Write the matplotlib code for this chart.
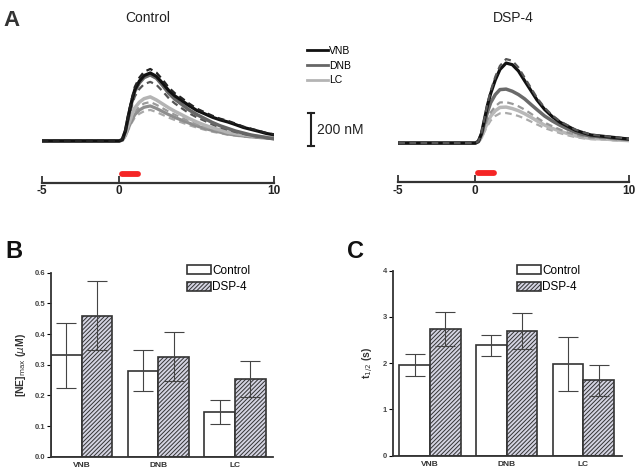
import matplotlib
matplotlib.use("Agg")
import matplotlib.pyplot as plt
from matplotlib.patches import Patch
from matplotlib.lines import Line2D
import numpy as np

plt.rcParams['font.family'] = ['Liberation Sans', 'DejaVu Sans']
plt.rcParams['axes.unicode_minus'] = False
plt.rcParams['hatch.linewidth'] = 0.7
plt.rcParams['hatch.color'] = '#8a8aa0'

# ---- Panel A: voltammetry traces (nM) ----
t = [-5, -2.5, 0, 0.2, 0.4, 0.6, 0.8, 1.0, 1.3, 1.6, 2.0, 2.4, 2.8, 3.2, 3.6, 4.0,
     4.5, 5.0, 5.5, 6.0, 6.5, 7.0, 7.5, 8.0, 8.5, 9.0, 9.5, 10.0]

ctrl_vnb = [0, 0, 0, 8, 62, 157, 239, 309, 363, 396, 412, 391, 350, 305, 272, 247,
            214, 185, 165, 144, 128, 115, 99, 82, 70, 58, 45, 37]
ctrl_vnb_dash = [0, 0, 0, 9, 65, 166, 253, 327, 384, 419, 436, 414, 371, 323, 288, 262,
                 227, 196, 174, 153, 135, 122, 105, 87, 74, 61, 48, 39]
ctrl_dnb = [0, 0, 0, 8, 60, 152, 232, 300, 352, 384, 400, 380, 336, 288, 252, 224,
            188, 160, 136, 112, 92, 76, 60, 48, 36, 28, 20, 12]
ctrl_dnb_dash = [0, 0, 0, 7, 54, 136, 208, 269, 315, 344, 358, 340, 301, 258, 226, 200,
                 168, 143, 122, 100, 82, 68, 54, 43, 32, 25, 18, 11]
ctrl_lc = [0, 0, 0, 5, 40, 101, 155, 200, 235, 256, 267, 248, 224, 200, 179, 160,
           136, 115, 96, 80, 67, 53, 45, 37, 32, 27, 21, 19]
ctrl_lc_dash = [0, 0, 0, 5, 35, 90, 137, 177, 208, 227, 236, 219, 198, 177, 158, 142,
                120, 101, 85, 71, 59, 47, 40, 33, 28, 24, 19, 17]
ctrl_mid = [0, 0, 0, 4, 32, 81, 123, 159, 187, 204, 212, 197, 178, 159, 142, 127,
            108, 91, 76, 64, 53, 42, 36, 30, 25, 21, 17, 15]
ctrl_lc_dash2 = [0, 0, 0, 4, 28, 71, 109, 141, 165, 180, 188, 175, 158, 141, 126, 113,
                 96, 81, 68, 56, 47, 38, 32, 26, 23, 19, 15, 13]

dsp_vnb = [0, 0, 0, 10, 58, 146, 233, 301, 383, 446, 485, 475, 437, 378, 320, 262,
           204, 160, 126, 102, 78, 63, 49, 44, 39, 34, 29, 24]
dsp_vnb_dash = [0, 0, 0, 10, 61, 153, 244, 316, 402, 468, 509, 499, 458, 397, 336, 275,
                214, 168, 132, 107, 81, 66, 51, 46, 41, 36, 31, 25]
dsp_dnb = [0, 0, 0, 10, 52, 124, 190, 245, 294, 324, 327, 314, 294, 268, 235, 203,
           164, 134, 108, 85, 65, 52, 43, 39, 36, 29, 26, 23]
dsp_lc = [0, 0, 0, 7, 35, 83, 126, 163, 196, 216, 218, 209, 196, 178, 157, 135,
          109, 89, 72, 57, 44, 35, 28, 26, 24, 20, 17, 15]
dsp_lc_dash_hi = [0, 0, 0, 7, 40, 94, 144, 186, 223, 246, 248, 238, 223, 203, 179, 154,
                  124, 102, 82, 64, 50, 40, 32, 30, 27, 22, 20, 17]
dsp_lc_dash_lo = [0, 0, 0, 5, 29, 69, 106, 137, 164, 180, 182, 175, 164, 149, 131, 113,
                  91, 75, 60, 47, 36, 29, 24, 22, 20, 16, 15, 13]

stim_on, stim_off = 0.15, 1.2

# ---- Panels B and C ----
regions = ['VNB', 'DNB', 'LC']
nemax_ctrl = [0.33, 0.28, 0.147]
nemax_ctrl_err = [0.105, 0.067, 0.039]
nemax_dsp = [0.46, 0.326, 0.253]
nemax_dsp_err = [0.112, 0.08, 0.058]

thalf_ctrl = [1.96, 2.39, 1.98]
thalf_ctrl_err = [0.245, 0.225, 0.58]
thalf_dsp = [2.74, 2.70, 1.63]
thalf_dsp_err = [0.375, 0.39, 0.33]

W, H = 637, 473
fig = plt.figure(figsize=(W / 100, H / 100), dpi=100)


def fr(x0, y0, x1, y1):
    # pixel box -> figure fraction rect
    return [x0 / W, 1 - y1 / H, (x1 - x0) / W, (y1 - y0) / H]


def trace_axes(rect, ylim):
    ax = fig.add_axes(rect)
    ax.set_xlim(-5, 10)
    ax.set_ylim(*ylim)
    for s in ['top', 'right', 'left']:
        ax.spines[s].set_visible(False)
    ax.spines['bottom'].set_linewidth(1.6)
    ax.spines['bottom'].set_color('#333333')
    ax.set_yticks([])
    ax.set_xticks([-5, 0, 10])
    ax.tick_params(axis='x', direction='in', length=5, width=1.3, color='#333333',
                   labelsize=8.5, pad=2, labelcolor='#222222')
    for lb in ax.get_xticklabels():
        lb.set_fontweight('bold')
    return ax


dash = (0, (3, 2))

# left (control)
axL = trace_axes(fr(41.7, 50, 274.3, 182.7), (-253, 551))
axL.plot(t, ctrl_lc_dash2, color='#a8a8a8', lw=1.6, ls=dash)
axL.plot(t, ctrl_mid, color='#8e8e8e', lw=2.3)
axL.plot(t, ctrl_lc_dash, color='#9a9a9a', lw=1.6, ls=dash)
axL.plot(t, ctrl_lc, color='#b4b4b4', lw=2.5)
axL.plot(t, ctrl_dnb_dash, color='#555555', lw=1.6, ls=dash)
axL.plot(t, ctrl_dnb, color='#666666', lw=2.5)
axL.plot(t, ctrl_vnb, color='#111111', lw=2.3)
axL.plot(t, ctrl_vnb_dash, color='#222222', lw=1.6, ls=dash)
axL.plot([stim_on, stim_off], [-198, -198], color='#f52525', lw=4.2,
         solid_capstyle='round', clip_on=False)

# scale bar
axL.plot([12.35, 12.35], [-30, 170], color='#222222', lw=1.5, clip_on=False)
axL.plot([12.15, 12.55], [170, 170], color='#222222', lw=1.5, clip_on=False)
axL.plot([12.15, 12.55], [-30, -30], color='#222222', lw=1.5, clip_on=False)
axL.text(12.75, 68, '200 nM', fontsize=10, va='center', ha='left', color='#222222')

# right (DSP-4)
axR = trace_axes(fr(398.3, 50, 629.3, 182), (-236, 564))
axR.plot(t, dsp_lc_dash_lo, color='#ababab', lw=1.6, ls=dash)
axR.plot(t, dsp_lc, color='#b8b8b8', lw=2.5)
axR.plot(t, dsp_lc_dash_hi, color='#999999', lw=1.6, ls=dash)
axR.plot(t, dsp_dnb, color='#6a6a6a', lw=2.5)
axR.plot(t, dsp_vnb, color='#111111', lw=2.3)
axR.plot(t, dsp_vnb_dash, color='#555555', lw=1.6, ls=dash)
axR.plot([stim_on, stim_off], [-182, -182], color='#f52525', lw=4.2,
         solid_capstyle='round', clip_on=False)

fig.text(148 / W, 1 - 18 / H, 'Control', fontsize=10, ha='center', va='center', color='#222222')
fig.text(513 / W, 1 - 18 / H, 'DSP-4', fontsize=10, ha='center', va='center', color='#222222')

leg_handles = [Line2D([], [], color='#111111', lw=2),
               Line2D([], [], color='#666666', lw=2),
               Line2D([], [], color='#b4b4b4', lw=2)]
fig.legend(leg_handles, regions, loc='upper left', bbox_to_anchor=(307 / W, 1 - 46 / H),
           frameon=False, fontsize=7.5, handlelength=2.0, handletextpad=0.1,
           labelspacing=0.45, borderpad=0, borderaxespad=0)

fig.text(12 / W, 1 - 20 / H, 'A', fontsize=16, fontweight='bold', ha='center',
         va='center', color='#333333')
fig.text(14 / W, 1 - 251 / H, 'B', fontsize=17, fontweight='bold', ha='center',
         va='center', color='#111111')
fig.text(356 / W, 1 - 251 / H, 'C', fontsize=17, fontweight='bold', ha='center',
         va='center', color='#111111')


def bar_axes(rect, ctrl, ctrl_err, dsp, dsp_err, ylim, yticks, yfmt, ylabel, xlim, leg_x):
    ax = fig.add_axes(rect)
    x = np.arange(len(regions))
    w = 0.4
    ax.bar(x - w / 2, ctrl, w, color='white', edgecolor='#333333', linewidth=1.2, zorder=2)
    ax.bar(x + w / 2, dsp, w, color='#d4d4e2', edgecolor='#333333', linewidth=1.2,
           hatch='////////', zorder=2)
    ax.errorbar(x - w / 2, ctrl, yerr=ctrl_err, fmt='none', ecolor='#444444',
                elinewidth=0.8, capsize=7, capthick=0.8, zorder=3)
    ax.errorbar(x + w / 2, dsp, yerr=dsp_err, fmt='none', ecolor='#444444',
                elinewidth=0.8, capsize=7, capthick=0.8, zorder=3)
    ax.set_xlim(*xlim)
    ax.set_ylim(*ylim)
    ax.set_yticks(yticks)
    ax.set_yticklabels([yfmt.format(v) for v in yticks])
    ax.set_xticks(x)
    ax.set_xticklabels(regions)
    for s in ['top', 'right']:
        ax.spines[s].set_visible(False)
    for s in ['left', 'bottom']:
        ax.spines[s].set_linewidth(1.3)
        ax.spines[s].set_color('#333333')
    ax.tick_params(axis='y', direction='out', length=3, width=0.8, labelsize=5.5,
                   pad=1, labelcolor='#444444')
    ax.tick_params(axis='x', length=0, labelsize=6, pad=4, labelcolor='#333333')
    for lb in ax.get_yticklabels() + ax.get_xticklabels():
        lb.set_fontweight('bold')
    ax.set_ylabel(ylabel, fontsize=7.5, fontweight='bold', color='#333333', labelpad=5)
    handles = [Patch(facecolor='white', edgecolor='#333333', linewidth=1.2),
               Patch(facecolor='#d4d4e2', edgecolor='#333333', linewidth=1.2,
                     hatch='////////')]
    ax.legend(handles, ['Control', 'DSP-4'], loc='upper left',
              bbox_to_anchor=(leg_x / W, 1 - 265 / H), bbox_transform=fig.transFigure,
              frameon=False, fontsize=8.5, handlelength=2.0, handleheight=0.8,
              handletextpad=0.15, labelspacing=0.35, borderpad=0, borderaxespad=0)
    return ax


bar_axes(fr(50.7, 272.7, 273, 456.7), nemax_ctrl, nemax_ctrl_err, nemax_dsp, nemax_dsp_err,
         (0, 0.6), [0, 0.1, 0.2, 0.3, 0.4, 0.5, 0.6], '{:.1f}',
         '[NE]$_{\\mathrm{max}}$ ($\\mu$M)', (-0.404, 2.495), 187)
bar_axes(fr(392.7, 270.7, 621.7, 455.7), thalf_ctrl, thalf_ctrl_err, thalf_dsp, thalf_dsp_err,
         (0, 4), [0, 1, 2, 3, 4], '{:.0f}',
         't$_{\\mathrm{1/2}}$ (s)', (-0.486, 2.5), 517)

fig.savefig('out.png', dpi=100)
